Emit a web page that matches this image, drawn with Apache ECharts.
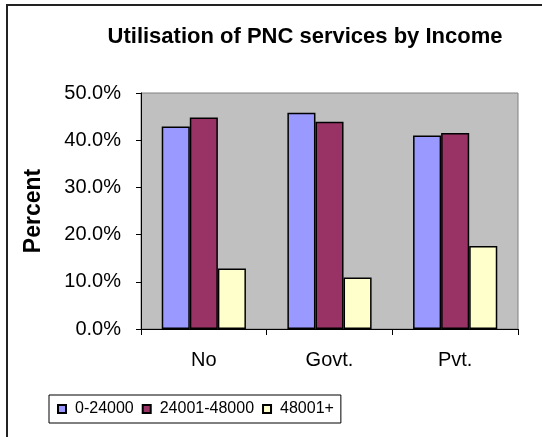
<!DOCTYPE html>
<html><head><meta charset="utf-8">
<script src="https://cdn.jsdelivr.net/npm/echarts@6/dist/echarts.min.js"></script>
<style>html,body{margin:0;padding:0;background:#fff}#c{width:542px;height:437px}</style>
</head><body><div id="c"></div>
<script>
var categories = ['No', 'Govt.', 'Pvt.'];
var seriesNames = ['0-24000', '24001-48000', '48001+'];
var low = [0.429, 0.458, 0.410];
var mid = [0.448, 0.439, 0.415];
var high = [0.128, 0.109, 0.176];
var colors = ['#9999FF', '#993366', '#FFFFCC'];
var font = '"Liberation Sans", Arial, sans-serif';

var chart = echarts.init(document.getElementById('c'), null, {renderer: 'canvas'});
var values = [low, mid, high];
chart.setOption({
  animation: false,
  backgroundColor: '#fff',
  title: {
    text: 'Utilisation of PNC services by Income',
    left: 300, top: 21, textAlign: 'center',
    textStyle: {fontFamily: font, fontSize: 22, fontWeight: 'bold', color: '#000'}
  },
  graphic: [{
    type: 'rect', shape: {x: 7, y: 5, width: 700, height: 700}, silent: true, z: 100,
    style: {fill: 'none', stroke: '#222', lineWidth: 2}
  }],
  legend: {
    data: seriesNames, left: 49, top: 395,
    itemWidth: 8, itemHeight: 8, itemGap: 8,
    icon: 'rect',
    borderColor: '#000', borderWidth: 1, padding: [6, 7, 6, 8],
    textStyle: {fontFamily: font, fontSize: 16, color: '#000', padding: [1, 0, 0, 4]}
  },
  grid: {left: 141, top: 93, right: 24, bottom: 108, show: true, backgroundColor: '#C0C0C0', borderColor: '#808080', borderWidth: 1},
  xAxis: {
    type: 'category', data: categories,
    axisLine: {lineStyle: {color: '#000', width: 1}},
    axisTick: {show: true, length: 6, lineStyle: {color: '#000'}},
    axisLabel: {fontFamily: font, fontSize: 20, color: '#000', margin: 21}
  },
  yAxis: {
    type: 'value', min: 0, max: 0.5, interval: 0.1,
    name: 'Percent', nameLocation: 'middle', nameGap: 96, nameRotate: 90,
    nameTextStyle: {fontFamily: font, fontSize: 23, fontWeight: 'bold', color: '#000'},
    axisLine: {show: true, lineStyle: {color: '#000', width: 1}},
    axisTick: {show: true, length: 5, lineStyle: {color: '#000'}},
    splitLine: {show: false},
    axisLabel: {fontFamily: font, fontSize: 20, color: '#000', margin: 20,
      formatter: function (v) { return (v * 100).toFixed(1) + '%'; }}
  },
  series: seriesNames.map(function (n, i) {
    return {
      name: n, type: 'bar', data: values[i], barGap: '0%', barCategoryGap: '33%',
      itemStyle: {color: colors[i], borderColor: '#000', borderWidth: 1.5}
    };
  })
});
</script></body></html>
